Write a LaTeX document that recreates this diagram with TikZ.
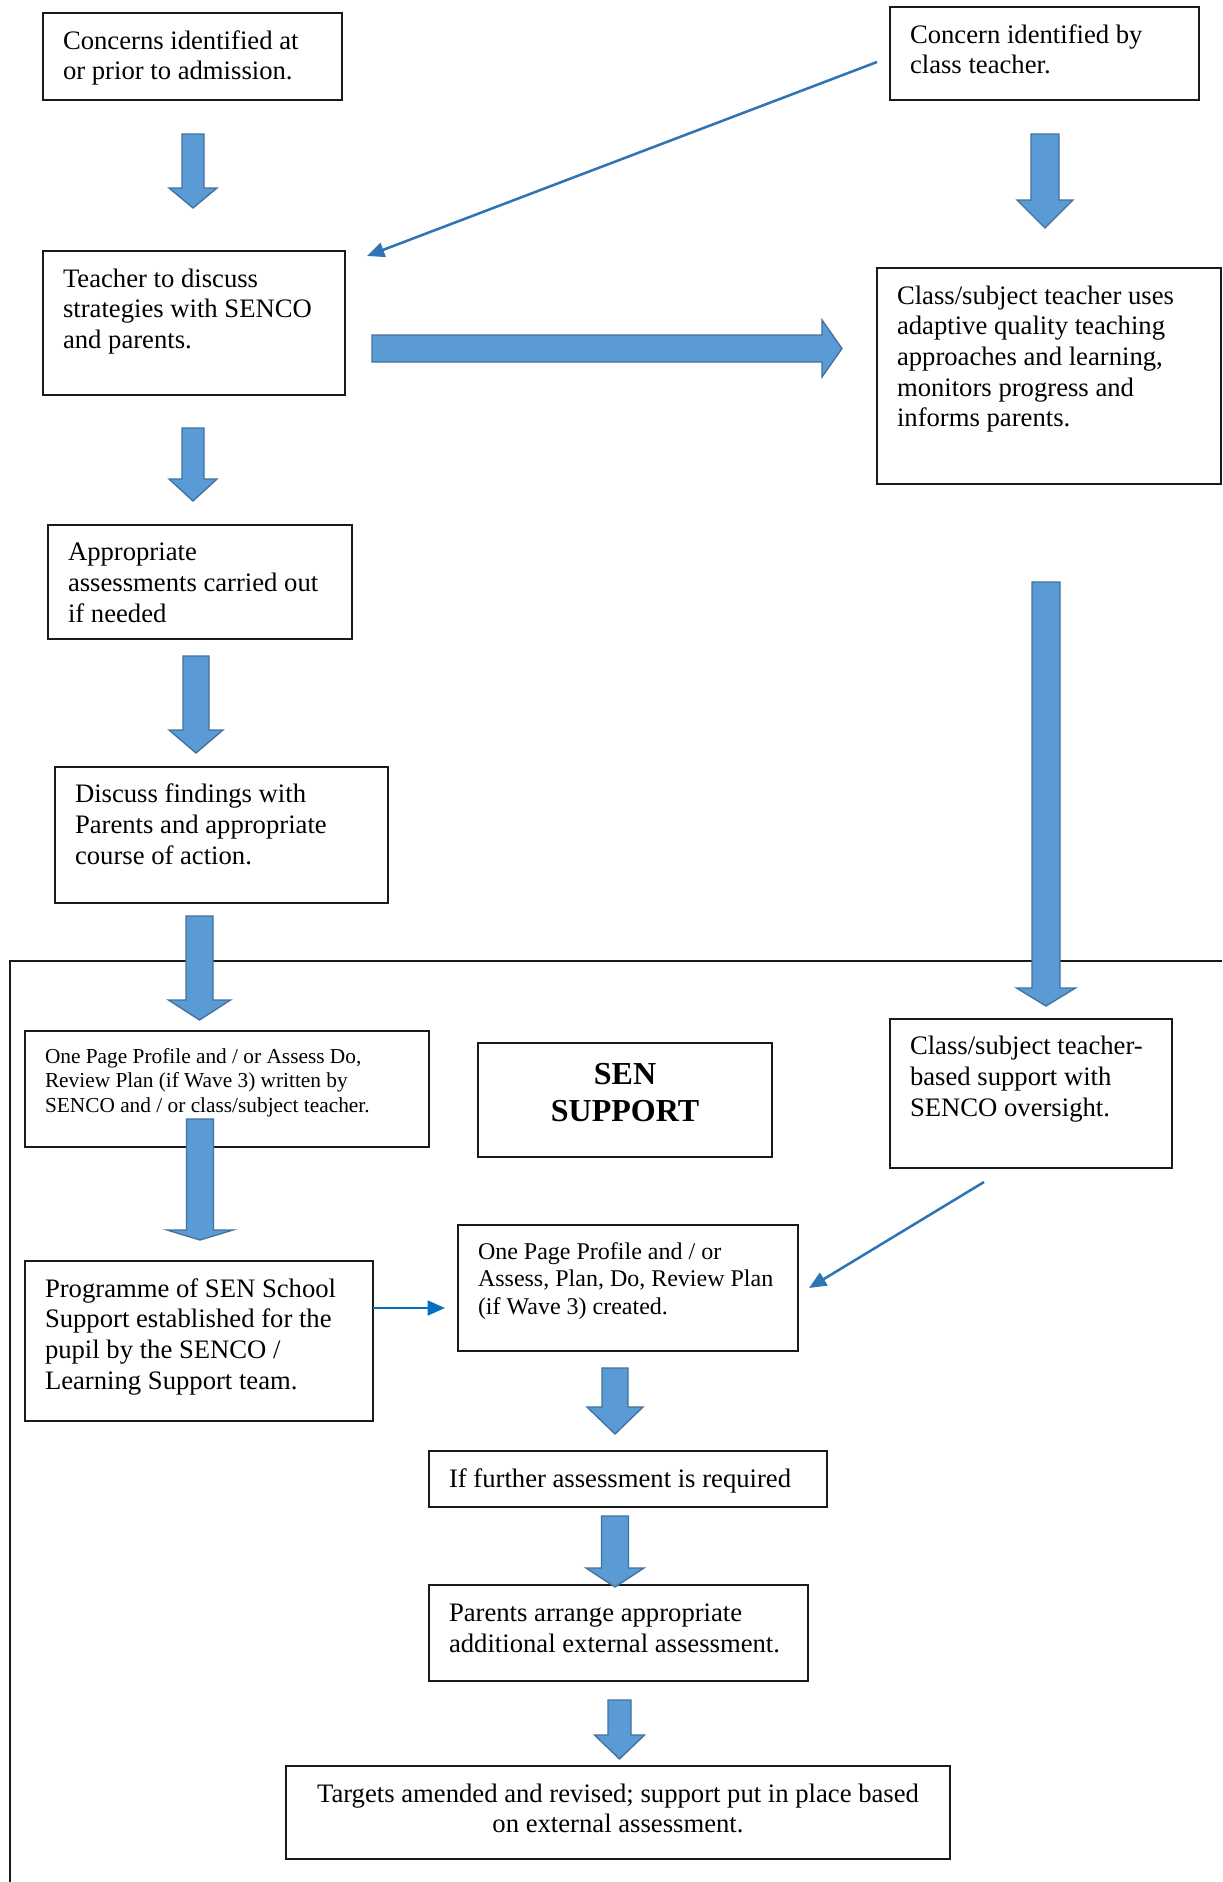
\documentclass[tikz,border=0pt]{standalone}
\usepackage{fontspec}
\setmainfont{Liberation Serif}
\usetikzlibrary{calc,fit,arrows.meta}
\definecolor{arrfill}{HTML}{5B9BD5}
\definecolor{arredge}{HTML}{41719C}
\definecolor{thinblue}{HTML}{2E75B6}
\definecolor{linkblue}{HTML}{0070C0}
\definecolor{boxline}{HTML}{1A1A1A}
% vertical block arrow: start, tip, shaft half width, head half width, head length
\newcommand\vblock[5]{%
  \draw[blockarrow] ($(#1)+(-#3,0)$) -- ($(#1)+(#3,0)$) -- ($(#2)+(#3,-#5)$) -- ($(#2)+(#4,-#5)$)
    -- (#2) -- ($(#2)+(-#4,-#5)$) -- ($(#2)+(-#3,-#5)$) -- cycle;}
% horizontal block arrow pointing right
\newcommand\hblock[5]{%
  \draw[blockarrow] ($(#1)+(0,-#3)$) -- ($(#2)+(-#5,-#3)$) -- ($(#2)+(-#5,-#4)$)
    -- (#2) -- ($(#2)+(-#5,#4)$) -- ($(#2)+(-#5,#3)$) -- ($(#1)+(0,#3)$) -- cycle;}
\begin{document}
\begin{tikzpicture}[x=0.75pt,y=-0.75pt,
  box/.style={draw=boxline, line width=1.1pt, inner sep=0pt, outer sep=0pt, fill=white},
  txt/.style={inner sep=0pt, outer sep=0pt, anchor=north west, align=left,
              font=\fontsize{20pt}{23pt}\selectfont},
  smalltxt/.style={txt, font=\fontsize{16pt}{18.4pt}\selectfont},
  midtxt/.style={txt, font=\fontsize{18pt}{20.7pt}\selectfont},
  titletxt/.style={txt, anchor=north, align=center, font=\bfseries\fontsize{24pt}{28pt}\selectfont},
  blockarrow/.style={fill=arrfill, draw=arredge, line width=1pt, line join=miter},
  thinarrow/.style={draw=thinblue, line width=1.9pt, -{Triangle[length=13pt,width=11pt]}},
  frameline/.style={draw=boxline, line width=1.5pt}]

\fill[white] (0,0) rectangle (1222,1882);
\useasboundingbox (0,0) rectangle (1222,1882);

% SEN support region frame
\draw[frameline] (10,1882) -- (10,961) -- (1222,961);

% boxes
\node[box, fit={(43,13) (342,100)}] (A) {};
\node[txt] (At) at ([shift={(20,14.8)}]A.north west) {\strut Concerns identified at\\or prior to admission.};

\node[box, fit={(890,7) (1199,100)}] (B) {};
\node[txt] (Bt) at ([shift={(20,14.8)}]B.north west) {\strut Concern identified by\\class teacher.};

\node[box, fit={(43,251) (345,395)}] (C) {};
\node[txt] (Ct) at ([shift={(20,14.8)}]C.north west) {\strut Teacher to discuss\\strategies with SENCO\\and parents.};

\node[box, fit={(877,268) (1221,484)}] (D) {};
\node[txt] (Dt) at ([shift={(20,14.8)}]D.north west) {\strut Class/subject teacher uses\\adaptive quality teaching\\approaches and learning,\\monitors progress and\\informs parents.};

\node[box, fit={(48,525) (352,639)}] (E) {};
\node[txt] (Et) at ([shift={(20,14.4)}]E.north west) {\strut Appropriate\\assessments carried out\\if needed};

\node[box, fit={(55,767) (388,903)}] (F) {};
\node[txt] (Ft) at ([shift={(20,14.4)}]F.north west) {\strut Discuss findings with\\Parents and appropriate\\course of action.};

\node[box, fit={(25,1031) (429,1147)}] (G) {};
\node[smalltxt] (Gt) at ([shift={(20,15)}]G.north west) {\strut One Page Profile and / or Assess Do,\\Review Plan (if Wave 3) written by\\SENCO and / or class/subject teacher.};

\node[box, fit={(478,1043) (772,1157)}] (S) {};
\node[titletxt] (St) at ([shift={(0,15.1)}]S.north) {\strut SEN\\SUPPORT};

\node[box, fit={(890,1019) (1172,1168)}] (I) {};
\node[txt] (It) at ([shift={(20,14.4)}]I.north west) {\strut Class/subject teacher-\\based support with\\SENCO oversight.};

\node[box, fit={(25,1261) (373,1421)}] (H) {};
\node[txt] (Ht) at ([shift={(20,14.8)}]H.north west) {\strut Programme of SEN School\\Support established for the\\pupil by the SENCO /\\Learning Support team.};

\node[box, fit={(458,1225) (798,1351)}] (J) {};
\node[midtxt] (Jt) at ([shift={(20,14.9)}]J.north west) {\strut One Page Profile and / or\\Assess, Plan, Do, Review Plan\\(if Wave 3) created.};

\node[box, fit={(429,1451) (827,1507)}] (K) {};
\node[txt] (Kt) at ([shift={(20,15.5)}]K.north west) {\strut If further assessment is required};

\node[box, fit={(429,1585) (808,1681)}] (L) {};
\node[txt] (Lt) at ([shift={(20,15.5)}]L.north west) {\strut Parents arrange appropriate\\additional external assessment.};

\node[box, fit={(286,1766) (950,1859)}] (M) {};
\node[txt, anchor=north, align=center] (Mt) at ([shift={(0,14.7)}]M.north) {\strut Targets amended and revised; support put in place based\\on external assessment.};

% thin connectors
\coordinate (t1s) at (877,62);   \coordinate (t1e) at (367,256);
\draw[thinarrow] (t1s) -- (t1e);
\coordinate (t2s) at (H.east |- 0,1308); \coordinate (t2e) at (445,1308);
\draw[thinarrow, draw=linkblue] (t2s) -- (t2e);
\coordinate (t3s) at (984,1182); \coordinate (t3e) at (809,1288);
\draw[thinarrow] (t3s) -- (t3e);

% block arrows
\coordinate (a1s) at (193,134);    \coordinate (a1e) at (193,208);
\vblock{a1s}{a1e}{11}{24}{20}
\coordinate (a2s) at (1045,134);   \coordinate (a2e) at (1045,228);
\vblock{a2s}{a2e}{14}{28}{28}
\coordinate (a3s) at (372,348.5);  \coordinate (a3e) at (842,348.5);
\hblock{a3s}{a3e}{13.5}{28.5}{20}
\coordinate (a4s) at (193,428);    \coordinate (a4e) at (193,501);
\vblock{a4s}{a4e}{11}{24}{22}
\coordinate (a5s) at (196,656);    \coordinate (a5e) at (196,753);
\vblock{a5s}{a5e}{13}{27}{23}
\coordinate (a6s) at (1046,582);   \coordinate (a6e) at (1046,1006);
\vblock{a6s}{a6e}{14}{29.5}{18}
\coordinate (a7s) at (199.5,916);  \coordinate (a7e) at (199.5,1020);
\vblock{a7s}{a7e}{13.5}{31}{20}
\coordinate (a8s) at (200,1119);   \coordinate (a8e) at (200,1240);
\vblock{a8s}{a8e}{13.5}{33}{10}
\coordinate (a9s) at (615,1368);   \coordinate (a9e) at (615,1434);
\vblock{a9s}{a9e}{13}{28}{27}
\coordinate (a10s) at (615,1516);  \coordinate (a10e) at (615,1587);
\vblock{a10s}{a10e}{13.5}{29}{19}
\coordinate (a11s) at (619.5,1700); \coordinate (a11e) at (619.5,1759);
\vblock{a11s}{a11e}{11.5}{25}{24}
\end{tikzpicture}
\end{document}
